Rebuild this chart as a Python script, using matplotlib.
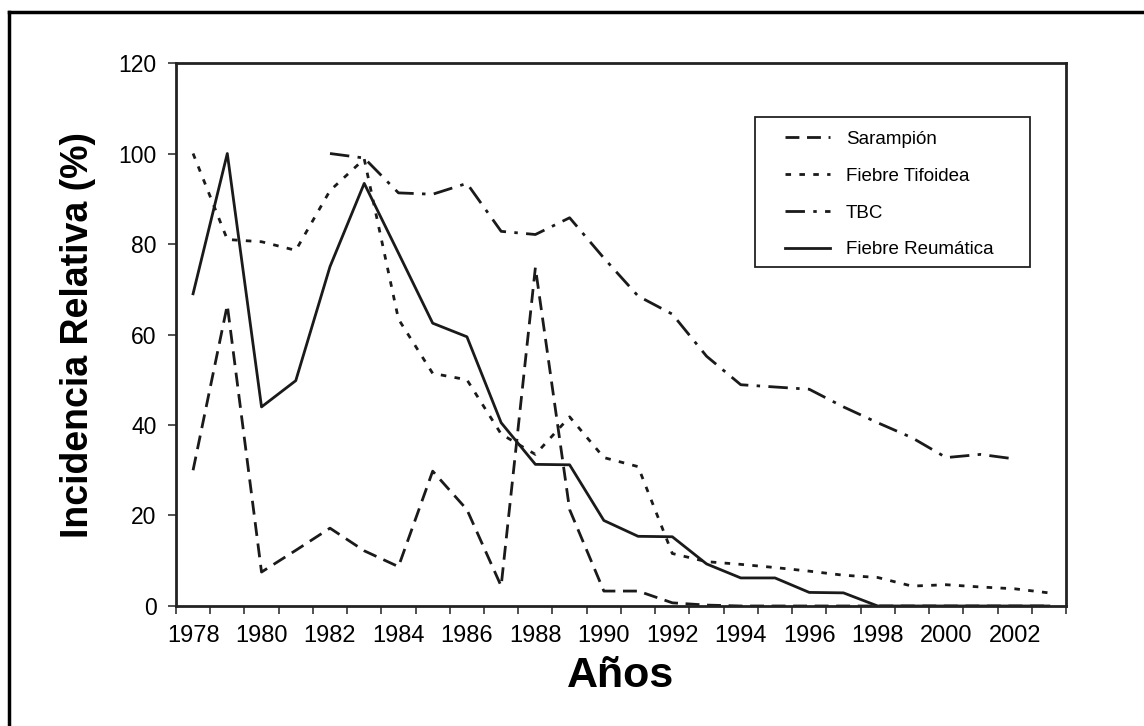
import numpy as np
import matplotlib
matplotlib.use("Agg")
import matplotlib.pyplot as plt
from matplotlib.lines import Line2D
from matplotlib.patches import Rectangle

plt.rcParams['font.family'] = ['Liberation Sans', 'DejaVu Sans']
plt.rcParams['lines.scale_dashes'] = False

years = list(range(1978, 2004))

sarampion = [30, 66.5, 7.5, 12.3, 17.2, 12.2, 8.7, 29.8, 21.3, 4.4, 74.8, 21.3,
             3.3, 3.3, 0.7, 0.2, 0, 0, 0, 0, 0, 0, 0, 0, 0, 0]
tifoidea = [100, 81, 80.5, 78.6, 91.8, 98.8, 63.4, 51.4, 50, 38, 33.5, 41.8,
            32.8, 30.8, 11.6, 9.8, 9.2, 8.5, 7.7, 6.8, 6.3, 4.4, 4.7, 4.2, 3.8, 2.9]
tbc = [None, None, None, None, 100, 99, 91.3, 91, 93.4, 82.8, 82.1, 85.8,
       76.9, 68.5, 64.5, 55.2, 48.9, 48.4, 47.9, 44, 40.5, 37.2, 32.8, 33.5, 32.5, None]
reumatica = [69, 100, 44, 49.8, 75, 93.4, 78, 62.5, 59.5, 40.5, 31.3, 31.2,
             18.9, 15.4, 15.3, 9.3, 6.2, 6.2, 3.0, 2.9, 0, 0, 0, 0, 0, 0]
labels = ['Sarampión', 'Fiebre Tifoidea', 'TBC', 'Fiebre Reumática']

x = np.arange(len(years))
tbc_arr = np.array([np.nan if v is None else v for v in tbc], dtype=float)

fig = plt.figure(figsize=(11.44, 7.26), dpi=100)
ax = fig.add_axes([0.1538, 0.1653, 0.778, 0.7479])

col = '#1a1a1a'
lw = 2.0
ax.plot(x, sarampion, color=col, lw=lw, linestyle=(0, (10, 5.5)), label=labels[0])
ax.plot(x, tifoidea, color=col, lw=lw, linestyle=(0, (4, 6)), label=labels[1])
ax.plot(x, tbc_arr, color=col, lw=lw, linestyle=(0, (14, 6, 2.5, 6)), label=labels[2])
ax.plot(x, reumatica, color=col, lw=lw, linestyle='-', label=labels[3])

ax.set_xlim(-0.5, len(years) - 0.5)
ax.set_ylim(0, 120)
ax.set_yticks(range(0, 121, 20))
ax.set_xticks(np.arange(-0.5, len(years), 1))
ax.set_xticklabels([])
ax.set_xticks(x[::2], minor=True)
ax.set_xticklabels([str(y) for y in years[::2]], minor=True)
ax.tick_params(axis='x', which='minor', length=0, pad=14, labelsize=17)
ax.tick_params(axis='x', which='major', length=6, width=1.2, direction='out', color='#333333')
ax.tick_params(axis='y', length=6, width=1.2, direction='out', labelsize=16.5, pad=8, color='#333333')

for s in ax.spines.values():
    s.set_linewidth(2.0)
    s.set_color('#222222')

ax.set_ylabel('Incidencia Relativa (%)', fontsize=27, fontweight='bold', labelpad=16)
ax.set_xlabel('Años', fontsize=31, fontweight='bold', labelpad=6)

# legend box drawn separately so the padding matches the original
ax.add_patch(Rectangle((0.6506, 0.6243), 0.309, 0.2763, transform=ax.transAxes,
                       fill=False, edgecolor='#222222', lw=1.3, zorder=5))
leg = ax.legend(loc='upper left', bbox_to_anchor=(0.6843, 0.875), fontsize=13.5,
                frameon=False, handlelength=2.4, handletextpad=0.85,
                borderpad=0, labelspacing=1.05, borderaxespad=0)

# outer frame, only top and left edges visible
fig.add_artist(Line2D([9 / 1144, 9 / 1144], [0, 1 - 12 / 726], transform=fig.transFigure,
                      color='black', lw=2.5))
fig.add_artist(Line2D([9 / 1144, 1], [1 - 12 / 726, 1 - 12 / 726], transform=fig.transFigure,
                      color='black', lw=2.5))

fig.savefig('out.png', dpi=100)
